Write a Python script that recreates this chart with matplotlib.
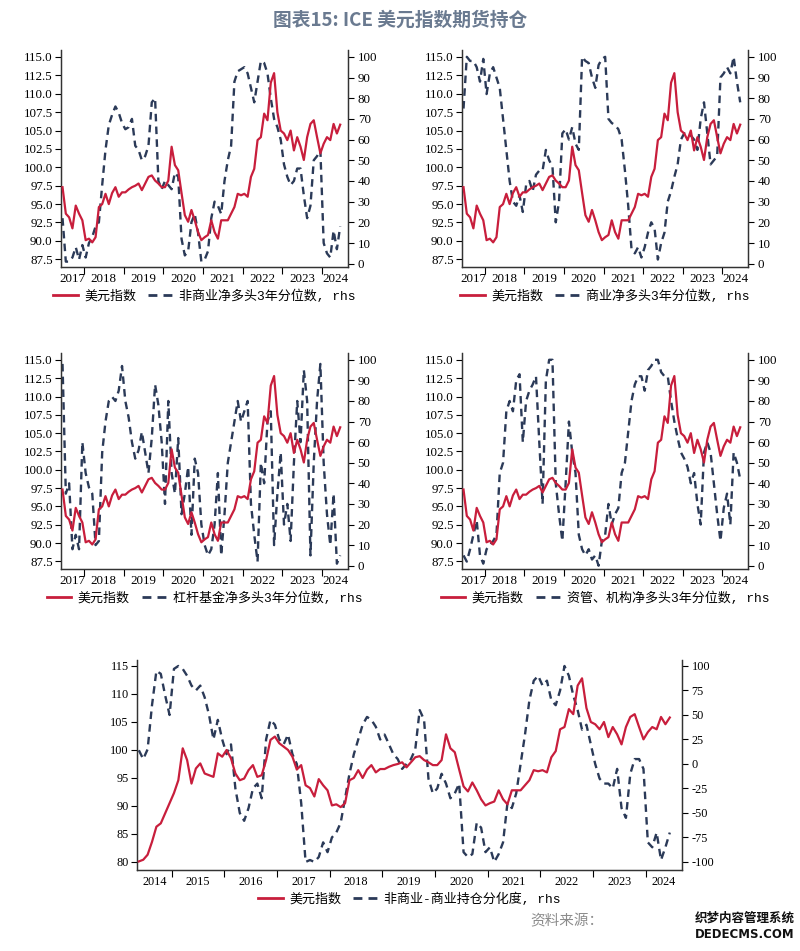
import numpy as np
import pandas as pd
import matplotlib
matplotlib.use('Agg')
import matplotlib.pyplot as plt
from matplotlib.lines import Line2D

plt.rcParams['font.family'] = ['Liberation Serif', 'Noto Sans CJK SC']
CJK = ['Noto Sans CJK SC', 'DejaVu Sans']
LEG = ['Liberation Mono', 'Noto Sans CJK SC']

# 美元指数, monthly (mid-month), 2014-05 .. 2024-06
dxy = [
    80.1, 80.4, 81.3, 83.6, 86.3, 86.9, 88.7, 90.5,                          # 2014 May-Dec
    92.3, 94.6, 100.3, 98.2, 94.0, 96.7, 97.6, 95.8, 95.5, 95.2, 99.4, 98.8,  # 2015
    100.0, 98.5, 95.8, 94.6, 94.9, 96.4, 97.3, 95.2, 95.5, 98.2, 101.8, 102.4,  # 2016
    101.2, 100.6, 100.0, 98.8, 96.5, 97.3, 93.7, 93.2, 91.7, 94.8, 93.7, 92.8,  # 2017
    90.1, 90.3, 89.8, 90.5, 94.6, 95.0, 96.4, 95.0, 96.5, 97.3, 96.0, 96.6,    # 2018
    96.6, 97.0, 97.3, 97.5, 97.8, 96.9, 97.8, 98.7, 98.9, 98.2, 97.8, 97.3,    # 2019
    97.3, 98.2, 102.8, 100.3, 99.6, 96.5, 93.5, 92.6, 94.2, 92.8, 91.2, 90.1,  # 2020
    90.5, 90.8, 92.8, 91.2, 90.3, 92.8, 92.8, 92.8, 93.7, 94.6, 96.4, 96.2,    # 2021
    96.4, 96.0, 98.7, 99.8, 103.7, 104.1, 107.3, 106.4, 111.5, 112.8, 107.5, 105.0,  # 2022
    104.6, 103.7, 105.0, 102.3, 104.1, 102.8, 101.0, 104.1, 105.9, 106.4, 104.1, 101.9,  # 2023
    103.2, 104.1, 103.7, 105.9, 104.6, 105.8,                                 # 2024 Jan-Jun
]
dates = pd.date_range('2014-05-01', periods=len(dxy), freq='MS')
start_top = 37  # 2017-06

# 3-year percentiles, monthly 2017-06 .. 2024-06
noncomm_pct = [
    22, 1, 1, 3, 8, 2, 9,
    3, 10, 13, 18, 20, 38, 55, 67, 72, 76, 73, 68,
    65, 66, 70, 57, 55, 50, 52, 57, 78, 80, 40, 36,
    40, 38, 36, 44, 42, 12, 4, 6, 20, 24, 15, 1,
    2, 6, 22, 30, 28, 24, 40, 50, 57, 88, 93, 94,
    95, 92, 85, 78, 88, 98, 97, 92, 80, 70, 66, 60,
    48, 42, 38, 40, 46, 46, 33, 22, 28, 50, 52, 55,
    10, 5, 3, 16, 7, 18,
]
comm_pct = [
    75, 100, 98, 98, 95, 88, 99,
    82, 92, 95, 90, 85, 70, 55, 40, 30, 28, 33, 25,
    38, 40, 35, 43, 45, 45, 55, 50, 47, 20, 30, 63,
    65, 60, 66, 58, 55, 100, 98, 97, 90, 85, 96, 99,
    100, 70, 68, 67, 65, 60, 45, 28, 7, 5, 8, 3,
    8, 15, 20, 17, 2, 10, 15, 30, 35, 42, 48, 60,
    63, 63, 62, 60, 55, 70, 78, 63, 48, 50, 52, 90,
    92, 95, 92, 100, 88, 78,
]
lev_pct = [
    98, 35, 40, 8, 15, 8, 60,
    45, 38, 35, 10, 12, 55, 70, 80, 82, 80, 85, 97,
    80, 72, 60, 52, 56, 65, 55, 45, 62, 88, 78, 60,
    30, 80, 45, 35, 62, 25, 35, 48, 15, 52, 45, 20,
    10, 5, 8, 20, 45, 5, 25, 50, 60, 70, 80, 70,
    75, 80, 30, 15, 2, 50, 40, 70, 75, 10, 35, 55,
    20, 30, 12, 50, 80, 60, 95, 80, 5, 50, 80, 98,
    50, 25, 10, 35, 1, 5,
]
am_pct = [
    5, 2, 8, 15, 22, 5, 1,
    8, 10, 12, 15, 45, 50, 75, 80, 75, 90, 93, 60,
    80, 85, 88, 92, 60, 30, 90, 100, 100, 40, 25, 12,
    40, 70, 55, 45, 15, 8, 5, 8, 3, 5, 0, 12,
    15, 30, 20, 25, 28, 45, 50, 65, 80, 88, 92, 92,
    85, 95, 97, 100, 100, 94, 92, 92, 80, 70, 62, 55,
    52, 48, 40, 45, 30, 20, 55, 60, 55, 40, 25, 12,
    28, 35, 20, 55, 50, 42,
]
# 非商业-商业持仓分化度, monthly 2014-05 .. 2024-06
divergence = [
    14, 5, 15, 60, 95, 92, 70, 50,
    97, 100, 97, 90, 80, 75, 80, 68, 50, 25, 45, 25,
    10, 20, -25, -50, -58, -45, -25, -20, -35, 25, 45, 40,
    25, 20, 30, 10, 0, -40, -100, -98, -100, -95, -80, -90,
    -75, -70, -60, -35, -10, 10, 25, 40, 48, 45, 38, 25,
    30, 20, 10, 5, -5, 0, 5, 15, 55, 45, -15, -30,
    -25, -10, -20, -35, -30, -20, -90, -95, -92, -60, -65, -90,
    -85, -100, -92, -80, -40, -45, -30, 0, 30, 65, 85, 90,
    80, 85, 65, 60, 75, 100, 90, 70, 55, 35, 40, 20,
    0, -15, -20, -20, -25, -5, -45, -55, -10, 5, 5, -5,
    -80, -85, -70, -98, -85, -70,
]

labels_top = ['非商业净多头3年分位数, rhs', '商业净多头3年分位数, rhs',
              '杠杆基金净多头3年分位数, rhs', '资管、机构净多头3年分位数, rhs']
label_bottom = '非商业-商业持仓分化度, rhs'

RED = '#c81e3c'
NAVY = '#2b3a58'
W, H = 800, 951

x_all = np.array(dates.year + (dates.month - 0.5) / 12.0)


def rect(l, t, r, b):
    return [l / W, 1 - b / H, (r - l) / W, (b - t) / H]


def set_years(ax, x0, x1, fs):
    ax.set_xlim(x0, x1)
    first, last = int(np.floor(x0)), int(np.floor(x1))
    ax.set_xticks(np.arange(first + 1, last + 1))
    ax.set_xticklabels([])
    centers = [(max(y, x0) + min(y + 1, x1)) / 2 for y in range(first, last + 1)]
    ax.set_xticks(centers, minor=True)
    ax.set_xticklabels([str(y) for y in range(first, last + 1)], minor=True, fontsize=fs)
    ax.tick_params(axis='x', which='major', length=5, direction='out')
    ax.tick_params(axis='x', which='minor', length=0, pad=4)


def panel(fig, box, x, red, dash, label, xlim, ylim_l, yt_l, fmt, ylim_r, yt_r, fs):
    ax = fig.add_axes(rect(*box))
    ax2 = ax.twinx()
    ax.plot(x, red, color=RED, lw=1.6, zorder=3)
    ax2.plot(x, dash, color=NAVY, lw=1.7, ls=(0, (3.2, 2.2)))
    ax.set_zorder(ax2.get_zorder() + 1)
    ax.patch.set_visible(False)
    ax.set_ylim(*ylim_l)
    ax.set_yticks(yt_l)
    ax.set_yticklabels([fmt.format(v) for v in yt_l], fontsize=fs)
    ax2.set_ylim(*ylim_r)
    ax2.set_yticks(yt_r)
    ax2.set_yticklabels([str(v) for v in yt_r], fontsize=fs)
    set_years(ax, xlim[0], xlim[1], fs)
    for a in (ax, ax2):
        a.spines['top'].set_visible(False)
        for s in ('left', 'right', 'bottom'):
            a.spines[s].set_color('#333333')
            a.spines[s].set_linewidth(0.9)
    ax.tick_params(axis='y', length=4, width=0.8, pad=2)
    ax2.tick_params(axis='y', length=4, width=0.8, pad=3)
    handles = [Line2D([], [], color=RED, lw=2.0),
               Line2D([], [], color=NAVY, lw=2.0, ls=(0, (3.2, 2.2)))]
    h_px = box[3] - box[1]
    ax.legend(handles, ['美元指数', label], loc='center',
              bbox_to_anchor=(0.5, -29.0 / h_px), ncol=2, frameon=False,
              prop={'family': LEG, 'size': 9.4}, handlelength=1.9,
              handletextpad=0.5, columnspacing=0.9)
    return ax


fig = plt.figure(figsize=(W / 100, H / 100), dpi=100)

fig.text(0.5, 1 - 20 / H, '图表15: ICE 美元指数期货持仓', ha='center', va='center',
         fontsize=13.5, color='#6a7a90', family=CJK, weight='bold')

x_top = x_all[start_top:]
dxy_top = dxy[start_top:]
yt_top = np.arange(87.5, 115.1, 2.5)
yt_pct = list(range(0, 101, 10))
boxes = [(61, 50, 348, 267), (462, 50, 748, 267),
         (61, 353, 348, 569), (462, 353, 748, 569)]
series = [noncomm_pct, comm_pct, lev_pct, am_pct]
for box, pct, lab in zip(boxes, series, labels_top):
    panel(fig, box, x_top, dxy_top, pct, lab, (2017.42, 2024.655),
          (86.45, 115.95), yt_top, '{:.1f}', (-1.6, 103.3), yt_pct, 9.4)

panel(fig, (137, 660, 682, 870), x_all, dxy, divergence, label_bottom,
      (2014.34, 2024.69), (78.57, 116.07), list(range(80, 116, 5)), '{:d}',
      (-108.2, 106.1), list(range(-100, 101, 25)), 8.8)

fig.text(530 / W, 1 - 921 / H, '资料来源：', ha='left', va='center',
         fontsize=10.5, color='#8c8c8c', family=CJK)
fig.text(745 / W, 1 - 918 / H, '织梦内容管理系统', ha='center', va='center',
         fontsize=9, color='#111111', family=CJK, weight='bold')
fig.text(745 / W, 1 - 935 / H, 'DEDECMS.COM', ha='center', va='center',
         fontsize=8.5, color='#111111', family=['DejaVu Sans'], weight='bold')

fig.savefig('out.png', dpi=100)
